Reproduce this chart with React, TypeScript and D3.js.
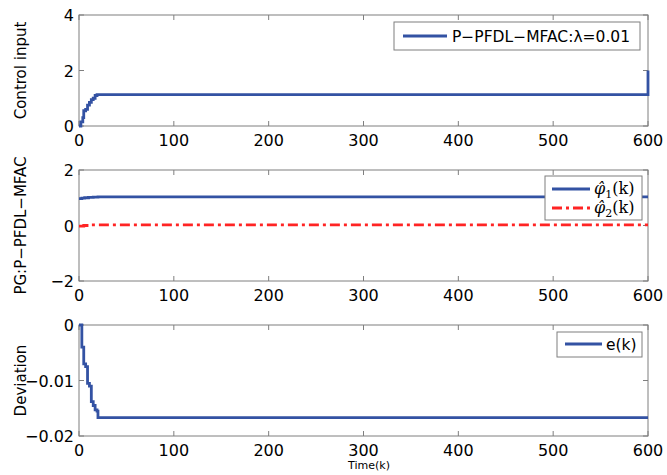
import React from 'react';
import * as d3 from 'd3';

// control input u(k), stepwise
const uK = [0, 1, 2, 4, 5, 7, 9, 11, 13, 15, 17, 19, 600, 600];
const uV = [0, 0, 0.15, 0.3, 0.55, 0.6, 0.75, 0.85, 0.95, 1.0, 1.1, 1.13, 1.13, 2.0];

// PG estimates
const phi1K = [0, 3, 6, 10, 15, 20, 600];
const phi1V = [0.97, 0.99, 1.0, 1.01, 1.02, 1.03, 1.03];
const phi2K = [0, 5, 10, 600];
const phi2V = [-0.02, 0.0, 0.02, 0.02];

// deviation e(k)
const eK = [0, 1, 3, 5, 7, 9, 11, 13, 15, 17, 19, 20, 600];
const eV = [0, 0, -0.004, -0.007, -0.0075, -0.0105, -0.011, -0.0138, -0.0145, -0.0153, -0.0155, -0.0167, -0.0167];

const xTicks = [0, 100, 200, 300, 400, 500, 600];
const ticks1 = [0, 2, 4];
const ticks2 = [-2, 0, 2];
const ticks3 = [-0.02, -0.01, 0];

const BLUE = '#3352a3';
const RED = '#ff2424';
const AXIS = '#7f7f7f';
const FONT = '"DejaVu Sans", Verdana, sans-serif';
const LW = 2.8;

const fmt = (v: number) => (v < 0 ? '\u2212' + String(Math.abs(v)) : String(v));

const x = d3.scaleLinear().domain([0, 600]).range([79, 648]);

type Panel = {
  top: number;
  bottom: number;
  domain: [number, number];
  ticks: number[];
  label: string;
};

const panels: Panel[] = [
  { top: 15, bottom: 126, domain: [0, 4], ticks: ticks1, label: 'Control input' },
  { top: 170, bottom: 281, domain: [-2, 2], ticks: ticks2, label: 'PG:P\u2212PFDL\u2212MFAC' },
  { top: 325, bottom: 436, domain: [-0.02, 0], ticks: ticks3, label: 'Deviation' },
];

function Axes({ p, y }: { p: Panel; y: d3.ScaleLinear<number, number> }) {
  const [x0, x1] = x.range();
  const tl = 5;
  return (
    <g>
      <rect x={x0} y={p.top} width={x1 - x0} height={p.bottom - p.top} fill="none" stroke={AXIS} strokeWidth={1} />
      {xTicks.map((t) => (
        <g key={'x' + t}>
          <line x1={x(t)} x2={x(t)} y1={p.bottom} y2={p.bottom - tl} stroke={AXIS} />
          <line x1={x(t)} x2={x(t)} y1={p.top} y2={p.top + tl} stroke={AXIS} />
          <text x={x(t)} y={p.bottom + 20} textAnchor="middle" fontSize={16} fontFamily={FONT} fill="#000">
            {t}
          </text>
        </g>
      ))}
      {p.ticks.map((t) => (
        <g key={'y' + t}>
          <line x1={x0} x2={x0 + tl} y1={y(t)} y2={y(t)} stroke={AXIS} />
          <line x1={x1} x2={x1 - tl} y1={y(t)} y2={y(t)} stroke={AXIS} />
          <text x={x0 - 5} y={y(t) + 6} textAnchor="end" fontSize={16} fontFamily={FONT} fill="#000">
            {fmt(t)}
          </text>
        </g>
      ))}
      <text
        transform={`translate(26,${(p.top + p.bottom) / 2}) rotate(-90)`}
        textAnchor="middle"
        fontSize={15}
        fontFamily={FONT}
        fill="#000"
      >
        {p.label}
      </text>
    </g>
  );
}

function series(ks: number[], vs: number[], y: d3.ScaleLinear<number, number>) {
  const pts = ks.map((k, i) => [k, vs[i]] as [number, number]);
  return d3
    .line<[number, number]>()
    .x((d) => x(d[0]))
    .y((d) => y(d[1]))
    .curve(d3.curveStepAfter)(pts) || '';
}

function PhiLabel({ x0, y0, idx }: { x0: number; y0: number; idx: number }) {
  return (
    <text x={x0} y={y0} fontSize={16} fontFamily='"DejaVu Serif", serif' fill="#000">
      <tspan fontStyle="italic">{'\u03c6\u0302'}</tspan>
      <tspan fontSize={11} dy={4}>{idx}</tspan>
      <tspan dy={-4}>(k)</tspan>
    </text>
  );
}

export default function App() {
  const ys = panels.map((p) => d3.scaleLinear().domain(p.domain).range([p.bottom, p.top]));
  return (
    <svg width={667} height={475} style={{ display: 'block', position: 'absolute', left: 0, top: 0, background: '#fff' }}>
      <rect width={667} height={475} fill="#fff" />
      {panels.map((p, i) => (
        <Axes key={i} p={p} y={ys[i]} />
      ))}

      {/* panel 1 */}
      <path d={series(uK, uV, ys[0])} fill="none" stroke={BLUE} strokeWidth={LW} />
      <rect x={394} y={22} width={246} height={28} fill="#fff" stroke={AXIS} />
      <line x1={403} x2={447} y1={36} y2={36} stroke={BLUE} strokeWidth={LW} />
      <text x={452} y={42} fontSize={15.5} fontFamily={FONT} fill="#000">
        {'P\u2212PFDL\u2212MFAC:\u03bb=0.01'}
      </text>

      {/* panel 2 */}
      <path d={series(phi1K, phi1V, ys[1])} fill="none" stroke={BLUE} strokeWidth={LW} />
      <path
        d={series(phi2K, phi2V, ys[1])}
        fill="none"
        stroke={RED}
        strokeWidth={LW}
        strokeDasharray="10,4,3,4"
      />
      <rect x={545} y={176} width={97} height={44} fill="#fff" stroke={AXIS} />
      <line x1={552} x2={590} y1={189} y2={189} stroke={BLUE} strokeWidth={LW} />
      <line x1={552} x2={590} y1={208} y2={208} stroke={RED} strokeWidth={LW} strokeDasharray="10,4,3,4" />
      <PhiLabel x0={594} y0={194} idx={1} />
      <PhiLabel x0={594} y0={213} idx={2} />

      {/* panel 3 */}
      <path d={series(eK, eV, ys[2])} fill="none" stroke={BLUE} strokeWidth={LW} />
      <rect x={557} y={332} width={85} height={25} fill="#fff" stroke={AXIS} />
      <line x1={565} x2={602} y1={344} y2={344} stroke={BLUE} strokeWidth={LW} />
      <text x={606} y={350} fontSize={15.5} fontFamily={FONT} fill="#000">
        e(k)
      </text>

      <text x={369} y={469} textAnchor="middle" fontSize={11} fontFamily={FONT} fill="#000">
        Time(k)
      </text>
    </svg>
  );
}
